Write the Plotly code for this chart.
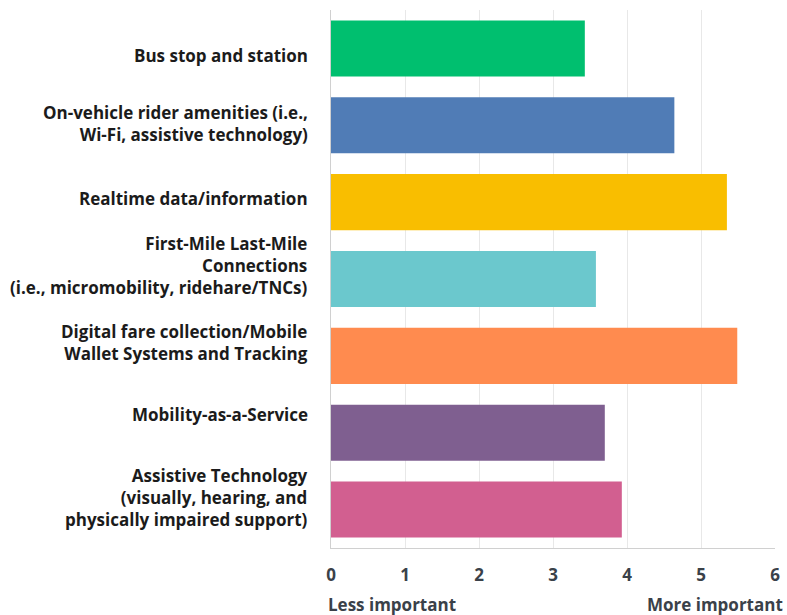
import plotly.graph_objects as go

categories = [
    "Bus stop and station",
    "On-vehicle rider amenities (i.e.,<br>Wi-Fi, assistive technology)",
    "Realtime data/information",
    "First-Mile Last-Mile<br>Connections<br>(i.e., micromobility, ridehare/TNCs)",
    "Digital fare collection/Mobile<br>Wallet Systems and Tracking",
    "Mobility-as-a-Service",
    "Assistive Technology<br>(visually, hearing, and<br>physically impaired support)",
]
values = [3.43, 4.64, 5.35, 3.58, 5.49, 3.70, 3.93]
colors = ["#00bf6f", "#507cb6", "#f9be00", "#6bc8cd", "#ff8b4f", "#7f5f90", "#d25f90"]
tick_vals = [0, 1, 2, 3, 4, 5, 6]

# pixel nudges for category labels (layout only)
label_shift = [-7, 2, 4, 14, 13, 18, 12]

FONT = "Open Sans"

fig = go.Figure(go.Bar(
    x=values, y=categories, orientation="h",
    marker=dict(color=colors, line=dict(width=0)),
    hoverinfo="x+y",
))

annotations = []
for cat, sh in zip(categories, label_shift):
    annotations.append(dict(
        text=cat, xref="paper", yref="y", x=0, y=cat,
        xanchor="right", yanchor="middle", align="right",
        xshift=-21, yshift=sh, showarrow=False,
        font=dict(family=FONT, size=17, color="#1b1b1b", weight="bold"),
    ))

annotations += [
    dict(text="Less important", xref="paper", yref="paper", x=0, y=0,
         xanchor="left", yanchor="top", yshift=-43, xshift=-5, showarrow=False,
         font=dict(family=FONT, size=17, color="#3a4149", weight="bold")),
    dict(text="More important", xref="paper", yref="paper", x=1, y=0,
         xanchor="right", yanchor="top", yshift=-43, xshift=10, showarrow=False,
         font=dict(family=FONT, size=17, color="#3a4149", weight="bold")),
]

fig.update_layout(
    width=787, height=615,
    margin=dict(l=331, r=12, t=10, b=67, autoexpand=False),
    paper_bgcolor="white", plot_bgcolor="white",
    bargap=0.27,
    showlegend=False,
    font=dict(family=FONT, color="#1a1a1a"),
    xaxis=dict(
        range=[0, 6], tickvals=tick_vals,
        showgrid=True, gridcolor="#e8e8e8", gridwidth=1,
        showline=True, linecolor="#d0d0d0", linewidth=1,
        zeroline=False, automargin=False,
        ticks="", ticklabelstandoff=12,
        tickfont=dict(family=FONT, size=17, color="#3a4149", weight="bold"),
        fixedrange=True,
    ),
    yaxis=dict(
        range=[len(categories) - 0.5, -0.5], autorange=False, automargin=False,
        showline=True, linecolor="#d0d0d0", linewidth=1,
        showgrid=False, ticks="", showticklabels=False,
        fixedrange=True,
    ),
    annotations=annotations,
)

fig.write_html("out.html")
